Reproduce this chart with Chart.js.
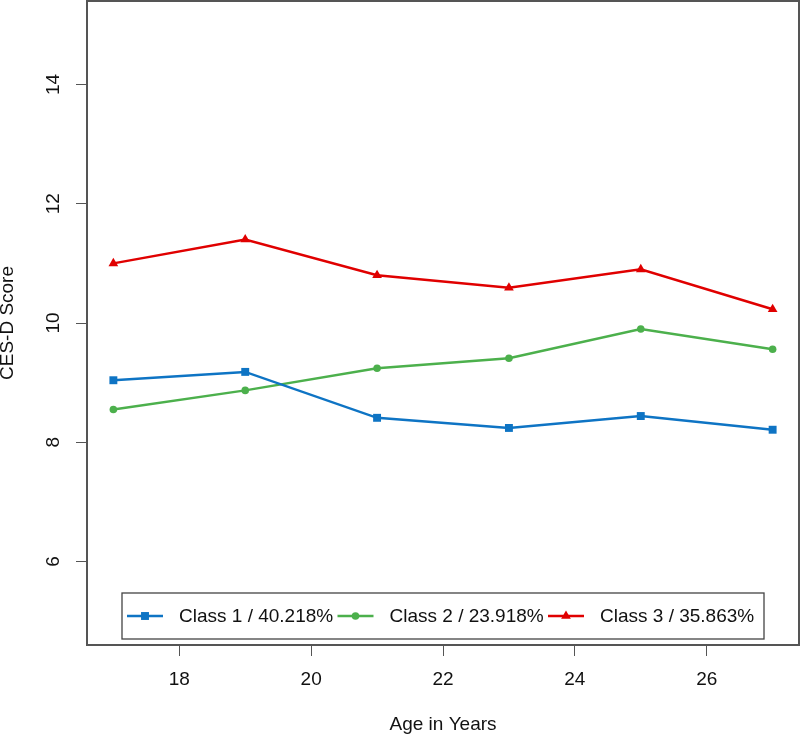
<!DOCTYPE html>
<html><head><meta charset="utf-8">
<script src="https://cdn.jsdelivr.net/npm/chart.js@4/dist/chart.umd.min.js"></script>
<style>html,body{margin:0;padding:0;background:#fff}#wrap{width:800px;height:737px}</style>
</head><body><div id="wrap"><canvas id="c" width="800" height="737"></canvas></div>
<script>
const ages = [17, 19, 21, 23, 25, 27];
const class1 = [9.04, 9.18, 8.41, 8.24, 8.44, 8.21];
const class2 = [8.55, 8.87, 9.24, 9.41, 9.90, 9.56];
const class3 = [11.00, 11.40, 10.80, 10.59, 10.90, 10.23];
const seriesLabels = ['Class 1 / 40.218%', 'Class 2 / 23.918%', 'Class 3 / 35.863%'];
const xTicks = [18, 20, 22, 24, 26];
const yTicks = [6, 8, 10, 12, 14];
const xTitle = 'Age in Years';
const yTitle = 'CES-D Score';

const FONT = '"Liberation Sans", Arial, sans-serif';
const colors = ['#0E74C4', '#4CB04C', '#E00000'];
const styles = ['rect', 'circle', 'triangle'];
const radii = [5.6, 3.8, 5.6];

function pts(vals) { return ages.map((a, i) => ({x: a, y: vals[i]})); }
const seriesValues = [class1, class2, class3];

const datasets = seriesValues.map((v, i) => ({
  label: seriesLabels[i],
  data: pts(v),
  borderColor: colors[i],
  backgroundColor: colors[i],
  borderWidth: 2.5,
  pointStyle: styles[i],
  pointRadius: radii[i],
  pointBorderWidth: 0,
  pointBackgroundColor: colors[i],
  tension: 0
}));

const deco = {
  id: 'deco',
  afterDraw(chart) {
    const ctx = chart.ctx, a = chart.chartArea, ys = chart.scales.y;
    ctx.save();
    // plot box
    ctx.strokeStyle = '#555';
    ctx.lineWidth = 2;
    ctx.strokeRect(a.left, a.top, a.right - a.left, a.bottom - a.top);
    // y tick labels rotated
    ctx.fillStyle = '#111';
    ctx.font = '19px ' + FONT;
    ctx.textAlign = 'center';
    ctx.textBaseline = 'middle';
    ys.ticks.forEach(t => {
      const py = ys.getPixelForValue(t.value);
      ctx.save(); ctx.translate(a.left - 33, py); ctx.rotate(-Math.PI / 2);
      ctx.fillText(String(t.value), 0, 0); ctx.restore();
    });
    // y title
    ctx.save(); ctx.translate(a.left - 79, (a.top + a.bottom) / 2); ctx.rotate(-Math.PI / 2);
    ctx.fillText(yTitle, 0, 0); ctx.restore();
    // x title
    ctx.fillText(xTitle, (a.left + a.right) / 2, a.bottom + 80);
    // legend
    const bw = 642, bh = 46;
    const bx = (a.left + a.right) / 2 - bw / 2, by = a.bottom - 6 - bh;
    ctx.fillStyle = '#fff';
    ctx.fillRect(bx, by, bw, bh);
    ctx.strokeStyle = '#444'; ctx.lineWidth = 1.3;
    ctx.strokeRect(bx, by, bw, bh);
    const cy = by + bh / 2;
    chart.data.datasets.forEach((ds, i) => {
      const x0 = bx + 5 + i * 210.5;
      ctx.strokeStyle = ds.borderColor; ctx.lineWidth = 2.5;
      ctx.beginPath(); ctx.moveTo(x0, cy); ctx.lineTo(x0 + 36, cy); ctx.stroke();
      ctx.fillStyle = ds.borderColor;
      Chart.helpers.drawPoint(ctx, {pointStyle: ds.pointStyle, radius: ds.pointRadius, rotation: 0, borderWidth: 0}, x0 + 18, cy);
      ctx.fillStyle = '#111';
      ctx.textAlign = 'left'; ctx.textBaseline = 'middle';
      ctx.fillText(ds.label, x0 + 52, cy + 1);
    });
    ctx.restore();
  }
};

new Chart(document.getElementById('c'), {
  type: 'line',
  data: {datasets},
  options: {
    responsive: false,
    animation: false,
    devicePixelRatio: 1,
    layout: {autoPadding: false, padding: {top: 1, right: 1, left: 0, bottom: 0}},
    plugins: {legend: {display: false}, tooltip: {enabled: false}},
    scales: {
      x: {
        type: 'linear', min: 16.6, max: 27.4,
        afterBuildTicks: s => { s.ticks = xTicks.map(v => ({value: v})); },
        afterFit: s => { s.height = 92; },
        border: {display: false},
        grid: {drawOnChartArea: false, tickLength: 11, color: '#555', lineWidth: 1},
        ticks: {font: {size: 19, family: FONT}, color: '#111', padding: 12, maxRotation: 0, autoSkip: false}
      },
      y: {
        type: 'linear', min: 4.6, max: 15.4,
        afterBuildTicks: s => { s.ticks = yTicks.map(v => ({value: v})); },
        afterFit: s => { s.width = 87; },
        border: {display: false},
        grid: {drawOnChartArea: false, tickLength: 11, color: '#555', lineWidth: 1},
        ticks: {display: false}
      }
    }
  },
  plugins: [deco]
});
</script></body></html>
